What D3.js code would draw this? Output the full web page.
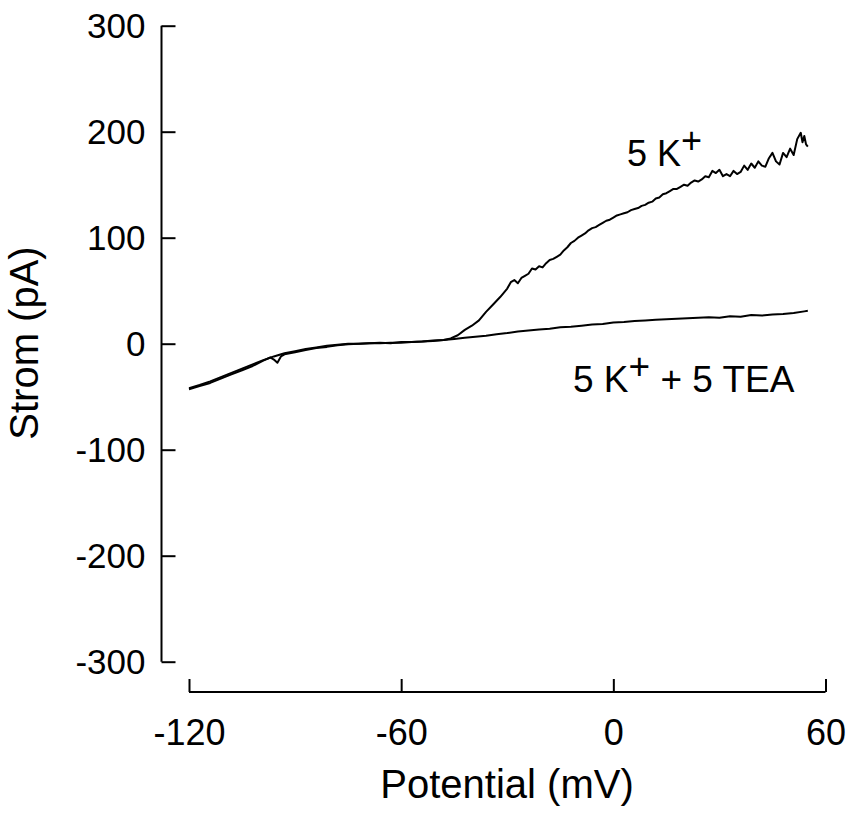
<!DOCTYPE html>
<html><head><meta charset="utf-8">
<script src="https://cdn.jsdelivr.net/npm/d3@7"></script>
<style>body{margin:0;background:#fff}svg{display:block}text{font-family:"Liberation Sans",Arial,sans-serif;fill:#000}</style>
</head><body><svg id="c" width="848" height="815"></svg>
<script>
const xTicks = [-120, -60, 0, 60];
const yTicks = [-300, -200, -100, 0, 100, 200, 300];
const k5mV = [-120,-117,-114,-111,-108,-105,-102,-99,-97,-96,-95,-94,-93,-90,-87,-84,-81,-78,-75,-72,-69,-66,-63,-60,-57,-54,-51,-48,-46,-44,-42,-40,-38,-36,-34,-32,-30,-29,-28,-27,-26,-25,-24,-23,-22,-21,-20,-19,-18,-17,-16,-15,-14,-13,-12,-11,-10,-9,-8,-7,-6,-5,-4,-3,-2,-1,0,1,2,3,4,5,6,7,8,9,10,11,12,13,14,15,16,17,18,19,20,21,22,23,24,25,26,27,28,29,30,31,32,33,34,35,36,37,38,39,40,41,42,43,44,45,46,47,48,49,50,51,52,53,53.5,54,54.5,55];
const k5pA = [-43,-40,-37,-33,-29,-25,-21,-16,-13,-15,-18,-12,-10,-8,-6,-4,-3,-1.5,-0.5,0,0.5,1,0.5,1.5,1.5,2,2.5,3.5,5,8,13,17,22,30,37,44,52,58,60,57,62,64,66,71,70,73,72,76,79,80,82,84,88,91,95,97,100,102,104,107,109,110,112,114,116,117,119,121,122,123,124,126,127,128,130,131,133,134,137,138,141,142,144,146,146,148,150,149,152,154,153,155,158,157,163,161,164,158,160,158,163,160,162,168,164,170,166,172,168,167,175,180,172,169,180,176,184,178,193,199,190,196,188,186];
const teamV = [-120,-117,-114,-111,-108,-105,-102,-99,-96,-93,-90,-87,-84,-81,-78,-75,-72,-69,-66,-63,-60,-57,-54,-51,-48,-45,-42,-39,-36,-33,-30,-27,-24,-21,-18,-15,-12,-9,-6,-3,0,3,6,9,12,15,18,21,24,27,30,33,36,39,42,45,48,51,54,55];
const teapA = [-42,-39,-35.5,-31.5,-27.5,-23.5,-19.5,-15.5,-12,-9,-7,-5,-3.5,-2,-1,0,0,0.5,0.5,1,1,1.5,2,3,3.5,4.5,5.5,6.5,7.5,9,10,11.5,12.5,13.5,14,15.5,16,17,18,18.5,20,20.5,21.5,22,22.5,23,23.5,24,24.5,25,24.5,26,25.5,27,26.5,27.5,28,29,30.5,31];

const svg = d3.select("#c");
const x = d3.scaleLinear().domain([-120, 60]).range([189, 825.5]);
const y = d3.scaleLinear().domain([-300, 300]).range([661.7, 25.7]);
const fmt = d => String(d);

const yAxis = d3.axisRight(y).tickValues(yTicks).tickSize(14).tickFormat(fmt);
const gy = svg.append("g").attr("transform", "translate(161.5,0)").call(yAxis);
gy.attr("font-size", null).attr("font-family", null);
gy.select(".domain").attr("d", `M0,${y(300)}V${y(-300)}`).attr("stroke-width", 2);
gy.selectAll(".tick line").attr("stroke-width", 2);
gy.selectAll(".tick text").attr("x", -16).attr("text-anchor", "end").attr("font-size", 35).attr("dy", "0.35em");

const xAxis = d3.axisTop(x).tickValues(xTicks).tickSize(13).tickFormat(fmt);
const gx = svg.append("g").attr("transform", "translate(0,692)").call(xAxis);
gx.attr("font-size", null).attr("font-family", null);
gx.select(".domain").attr("d", `M${x(-120)},0H${x(60)}`).attr("stroke-width", 2);
gx.selectAll(".tick line").attr("stroke-width", 2);
gx.selectAll(".tick text").attr("y", 53).attr("dy", 0).attr("font-size", 36);

svg.selectAll("text").attr("font-family", "Liberation Sans, Arial, sans-serif").attr("fill", "#000");

const line = d3.line().x(d => x(d[0])).y(d => y(d[1]));
svg.append("path").datum(k5mV.map((v, i) => [v, k5pA[i]])).attr("d", line)
  .attr("fill", "none").attr("stroke", "#000").attr("stroke-width", 2).attr("stroke-linejoin", "round");
svg.append("path").datum(teamV.map((v, i) => [v, teapA[i]])).attr("d", line)
  .attr("fill", "none").attr("stroke", "#000").attr("stroke-width", 2).attr("stroke-linejoin", "round");

const t1 = svg.append("text").attr("x", 627).attr("y", 166).attr("font-size", 36);
t1.append("tspan").text("5 K");
t1.append("tspan").text("+").attr("dy", -13);
const t2 = svg.append("text").attr("x", 573).attr("y", 392).attr("font-size", 37);
t2.append("tspan").text("5 K");
t2.append("tspan").text("+").attr("dy", -13);
t2.append("tspan").text(" + 5 TEA").attr("dy", 13);

svg.append("text").attr("x", 507).attr("y", 798).attr("text-anchor", "middle").attr("font-size", 40).text("Potential (mV)");
svg.append("text").attr("transform", "translate(38,343) rotate(-90)").attr("text-anchor", "middle").attr("font-size", 40).text("Strom (pA)");
</script></body></html>
